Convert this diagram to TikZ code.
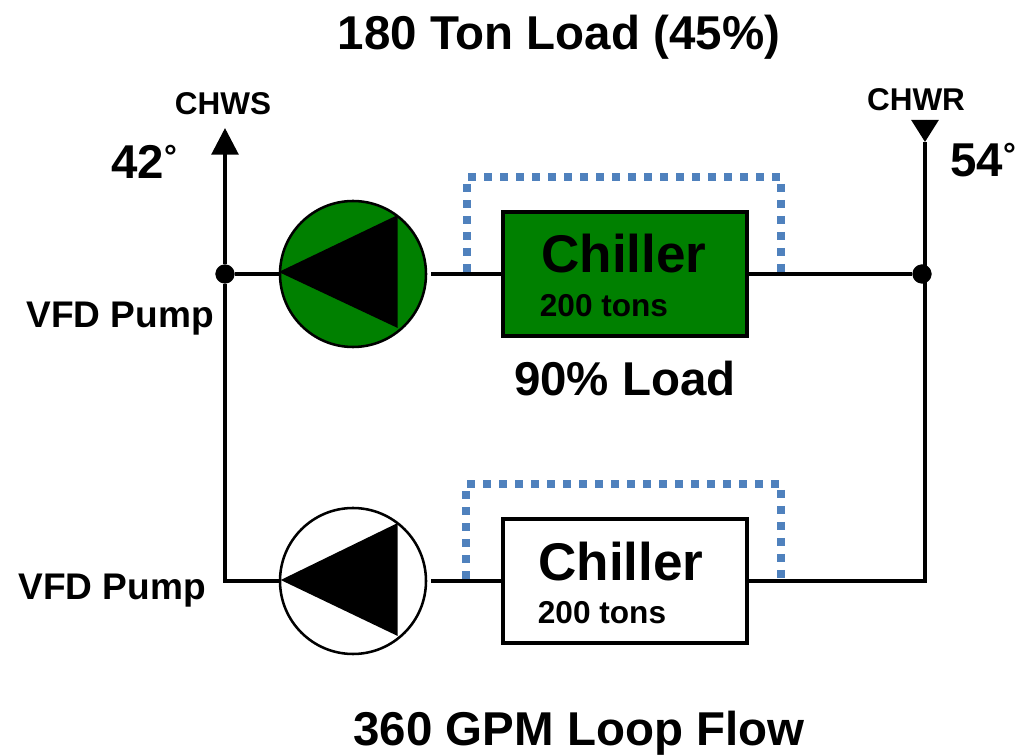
\documentclass[tikz,border=0pt]{standalone}
\usepackage{fontspec}
\setmainfont{Liberation Sans}
\usepackage{xcolor}
\usetikzlibrary{positioning,arrows.meta}
\definecolor{loadgreen}{RGB}{0,128,0}
\definecolor{bypassblue}{RGB}{79,129,189}
\newcommand{\degmark}{\raisebox{8pt}{\fontsize{24}{24}\selectfont\textdegree}}

\begin{document}
\begin{tikzpicture}[x=0.75pt, y=-0.75pt,
  every node/.style={font=\bfseries, inner sep=0pt},
  pipe/.style={line width=2.9pt},
  pumpnode/.style={draw, circle, line width=1.9pt, minimum size=109.5pt},
  chillerbox/.style={draw, line width=3pt, minimum width=183pt, minimum height=93.5pt},
  junction/.style={draw, circle, fill=black, minimum size=14pt},
  bypass/.style={draw=bypassblue, line width=6pt, dash pattern=on 6pt off 6pt},
  flowtip/.style={-{Triangle[length=20pt,width=20pt]}, line width=2.9pt},
  returntip/.style={-{Triangle[length=16.5pt,width=20pt]}, line width=2.9pt},
  bigtxt/.style={font=\bfseries\fontsize{35.6}{40}\selectfont},
  chillertxt/.style={font=\bfseries\fontsize{39.8}{44}\selectfont},
  tonstxt/.style={font=\bfseries\fontsize{23.7}{28}\selectfont},
  pumptxt/.style={font=\bfseries\fontsize{27.8}{32}\selectfont},
  linetxt/.style={font=\bfseries\fontsize{23.6}{28}\selectfont}]
  \useasboundingbox (0,0) rectangle (1026,755);
  \node[bigtxt] (title) at (559,37) {180 Ton Load (45\%)};
  \node[bigtxt] (flow) at (579,733) {360 GPM Loop Flow};
  % top branch
  \node[junction] (js) at (225,274) {};
  \node[junction] (jr) at (922,274) {};
  \node[pumpnode, fill=loadgreen] (p1) at (353,274) {};
  \node[chillerbox, fill=loadgreen] (c1) at (625,274) {};
  \node[chillertxt] (c1t) at (624,254) {Chiller};
  \node[tonstxt] (c1s) at (604,306) {200 tons};
  \node[bigtxt, below=17pt of c1.south] (c1l) {90\% Load};
  \fill (p1.west) ++(0,-2) -- ++(119,-57) -- ++(0,113) -- cycle;
  % bottom branch
  \node[pumpnode] (p2) at (353,581) {};
  \node[chillerbox] (c2) at (625,581) {};
  \node[chillertxt] (c2t) at (621,562) {Chiller};
  \node[tonstxt] (c2s) at (602,613) {200 tons};
  \fill (p2.west) ++(2,-1) -- ++(117,-57) -- ++(0,113) -- cycle;
  % ends of the pipes
  \coordinate (stip) at (225,128);
  \coordinate (rbase) at (925,120);
  \coordinate (rtip) at (925,142);
  \coordinate (sb) at (225,581);
  \coordinate (rb) at (925,581);
  \draw[pipe] (js) -- (p1);
  \draw[pipe, shorten <=3pt] (p1) -- (c1);
  \draw[pipe] (c1) -- (jr);
  \draw[pipe] (js) -- (sb) -- (p2);
  \draw[pipe, shorten <=3pt] (p2) -- (c2);
  \draw[pipe] (c2) -- (rb) -- (rtip);
  \draw[flowtip] (js) -- (stip);
  \draw[returntip] (rbase) -- (rtip);
  % bypass around each chiller
  \draw[bypass] (467,272) -- (467,177) -- (781,177) -- (781,272);
  \draw[bypass] (466,579) -- (466,484) -- (781,484) -- (781,579);
  \node[linetxt] (chws) at (223,104) {CHWS};
  \node[linetxt] (chwr) at (916,100) {CHWR};
  \node[bigtxt] (ts) at (144,162) {42\degmark};
  \node[bigtxt] (tr) at (983,160) {54\degmark};
  \node[pumptxt] (v1) at (120,319) {VFD Pump};
  \node[pumptxt] (v2) at (112,591) {VFD Pump};
\end{tikzpicture}
\end{document}
